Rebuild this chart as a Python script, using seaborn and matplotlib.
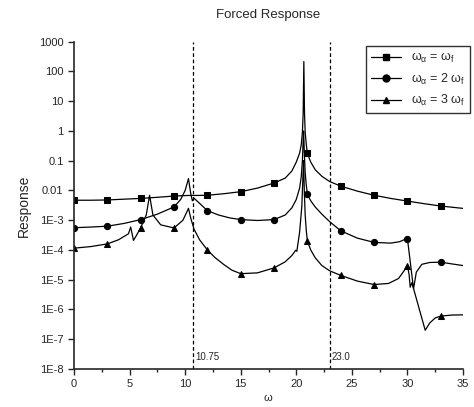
import numpy as np
import pandas as pd
import matplotlib
matplotlib.use("Agg")
import matplotlib.pyplot as plt
import matplotlib.ticker as mticker
import matplotlib.transforms as mtrans
from matplotlib.lines import Line2D
import seaborn as sns

# ---------------- data ----------------
x_sq = [0, 1.5, 3, 4.5, 6, 7.5, 9, 10.3, 11, 12, 13.5, 15, 16.5, 18, 19, 19.6,
        20.0, 20.3, 20.45, 20.55, 20.62, 20.68, 20.74, 20.8, 20.9, 21, 21.3,
        21.7, 22.3, 23, 24, 25.5, 27, 28.5, 30, 31.5, 33, 35]
y_sq = [0.0047, 0.0047, 0.0048, 0.0051, 0.0054, 0.0059, 0.0065, 0.0068, 0.0068,
        0.0069, 0.0078, 0.0091, 0.012, 0.0178, 0.026, 0.045, 0.09, 0.18, 0.35,
        0.9, 4, 215, 4, 0.9, 0.35, 0.175, 0.09, 0.05, 0.03, 0.02, 0.014,
        0.0095, 0.0069, 0.0054, 0.0044, 0.0036, 0.003, 0.0025]

x_ci = [0, 1.5, 3, 4.5, 6, 7.5, 9, 9.6, 10.0, 10.3, 10.5, 10.65, 10.8, 11.2, 12,
        13, 14, 15, 16.5, 18, 19, 19.6, 20.0, 20.3, 20.45, 20.55, 20.62, 20.66,
        20.72, 20.8, 20.9, 21, 21.3, 21.7, 22.3, 23, 24, 25.5, 27, 28.5, 29.3,
        29.8, 30, 30.45, 30.55, 30.8, 31.3, 32, 33, 34, 35]
y_ci = [5.6e-4, 5.9e-4, 6.3e-4, 7.8e-4, 1.05e-3, 1.6e-3, 2.8e-3, 5e-3, 0.01,
        0.025, 0.008, 0.0045, 0.0055, 0.004, 0.0021, 1.5e-3, 1.2e-3, 1.05e-3,
        9.8e-4, 1.05e-3, 1.5e-3, 2.6e-3, 5e-3, 0.012, 0.03, 0.1, 0.5, 1.0, 0.2,
        0.04, 0.015, 0.0074, 4.5e-3, 2.8e-3, 1.6e-3, 9e-4, 4.4e-4, 2.5e-4,
        1.8e-4, 1.7e-4, 1.9e-4, 2.3e-4, 2.4e-4, 1e-5, 5e-6, 1.8e-5, 3.3e-5,
        3.8e-5, 3.9e-5, 3.4e-5, 3e-5]

x_tr = [0, 1.5, 3, 4, 4.9, 5.1, 5.35, 5.6, 6, 6.5, 6.8, 7.1, 7.8, 9, 9.8, 10.3,
        10.5, 10.8, 11.3, 12, 12.7, 13.5, 14.2, 15, 16.5, 18, 19, 19.6, 19.95,
        20.05, 20.3, 20.5, 20.6, 20.66, 20.72, 20.8, 20.9, 21, 21.3, 21.7, 22.3,
        23, 24, 25.5, 27, 28.3, 29.2, 29.7, 30, 30.15, 30.25, 30.4, 31.6, 32,
        32.5, 33, 34, 35]
y_tr = [1.15e-4, 1.3e-4, 1.6e-4, 2.2e-4, 3.5e-4, 5.9e-4, 2.1e-4, 3e-4, 5.6e-4,
        1.5e-3, 6.9e-3, 1.5e-3, 7e-4, 5.5e-4, 1e-3, 2.5e-3, 1.2e-3, 5e-4,
        2.2e-4, 1.0e-4, 5.5e-5, 3.2e-5, 2.1e-5, 1.6e-5, 1.7e-5, 2.5e-5, 4e-5,
        6.5e-5, 9.8e-5, 9e-5, 4e-4, 0.003, 0.03, 0.1, 0.01, 1.5e-3, 4.5e-4,
        2.0e-4, 1e-4, 5.5e-5, 3e-5, 2e-5, 1.4e-5, 9e-6, 6.9e-6, 7.5e-6, 1.1e-5,
        2e-5, 3.0e-5, 1.5e-5, 5.6e-6, 8e-6, 2e-7, 3.5e-7, 5.2e-7, 6e-7, 6.5e-7,
        6.6e-7]

marker_x = [0, 3, 6, 9, 12, 15, 18, 21, 24, 27, 30, 33]
labels = [r"$\omega_\alpha$ = $\omega_f$",
          r"$\omega_\alpha$ = 2 $\omega_f$",
          r"$\omega_\alpha$ = 3 $\omega_f$"]
vlines = [10.75, 23.0]
vline_labels = ["10.75", "23.0"]
ytick_vals = [1e3, 1e2, 1e1, 1, 0.1, 0.01, 1e-3, 1e-4, 1e-5, 1e-6, 1e-7, 1e-8]
ytick_labels = ["1000", "100", "10", "1", "0.1", "0.01", "1E-3", "1E-4",
                "1E-5", "1E-6", "1E-7", "1E-8"]
xticks = [0, 5, 10, 15, 20, 25, 30, 35]

# ---------------- plotting ----------------
sns.set_style("ticks")
plt.rcParams["font.family"] = ["Liberation Sans", "DejaVu Sans"]
plt.rcParams["mathtext.fontset"] = "custom"
plt.rcParams["mathtext.rm"] = "Liberation Sans"
plt.rcParams["mathtext.it"] = "Liberation Sans"

fig = plt.figure(figsize=(4.74, 4.07), dpi=100)
ax = fig.add_axes([74 / 474, 1 - 369 / 407, (463 - 74) / 474, (369 - 41.7) / 407])

series = [(x_sq, y_sq, "s", labels[0]),
          (x_ci, y_ci, "o", labels[1]),
          (x_tr, y_tr, "^", labels[2])]
handles = []
for xs, ys, mk, lab in series:
    df = pd.DataFrame({"w": xs, "r": ys})
    idx = [i for i, v in enumerate(xs) if v in marker_x]
    sns.lineplot(data=df, x="w", y="r", ax=ax, color="black", lw=0.9,
                 marker=mk, markersize=4.5, markevery=idx, sort=False,
                 markeredgecolor="black", markerfacecolor="black", legend=False)
    handles.append(Line2D([], [], color="black", lw=0.9, marker=mk,
                          markersize=5, label=lab))

ax.set_yscale("log")
ax.set_xlim(0, 35)
ax.set_ylim(1e-8, 1e3)

tr = mtrans.blended_transform_factory(ax.transData, ax.transAxes)
for xv, lab in zip(vlines, vline_labels):
    ax.axvline(xv, color="black", ls=(0, (3, 2)), lw=0.9)
    ax.text(xv + 0.2, 0.02, lab, transform=tr, fontsize=7, ha="left", va="bottom")

ax.yaxis.set_major_locator(mticker.FixedLocator(ytick_vals))
ax.yaxis.set_major_formatter(mticker.FixedFormatter(ytick_labels))
ax.yaxis.set_minor_locator(mticker.LogLocator(base=10, subs=np.arange(2, 10)))
ax.yaxis.set_minor_formatter(mticker.NullFormatter())
ax.set_xticks(xticks)
ax.xaxis.set_minor_locator(mticker.MultipleLocator(2.5))

ax.tick_params(axis="both", which="major", labelsize=8, length=4, width=1)
ax.tick_params(axis="y", which="minor", direction="in", length=2, width=0.6)
ax.tick_params(axis="x", which="minor", direction="out", length=2.5, width=1)
for s in ["left", "bottom"]:
    ax.spines[s].set_linewidth(1.2)
sns.despine(ax=ax)

ax.set_title("Forced Response", fontsize=9.5, pad=17)
ax.set_ylabel("Response", fontsize=10, labelpad=6)
ax.set_xlabel(r"$\omega$", fontsize=8, labelpad=2)

leg = ax.legend(handles=handles, loc="upper right", bbox_to_anchor=(1.035, 1.005),
                frameon=True, fancybox=False, edgecolor="black", fontsize=9,
                handlelength=2.4, borderpad=0.4, labelspacing=0.5)
leg.get_frame().set_linewidth(1.0)

fig.savefig("out.png", dpi=100)
